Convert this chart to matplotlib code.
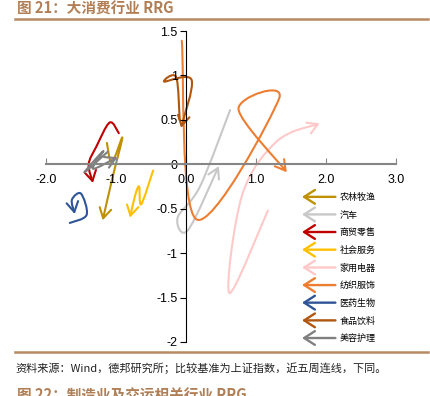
import matplotlib
matplotlib.use('Agg')
import matplotlib.pyplot as plt
from matplotlib.path import Path
from matplotlib.patches import FancyArrowPatch
from matplotlib.lines import Line2D
from matplotlib.legend_handler import HandlerBase
import numpy as np

plt.rcParams['font.family'] = ['Noto Sans CJK SC', 'DejaVu Sans']
plt.rcParams['axes.unicode_minus'] = False

# five weekly RRG points per sector (x: relative strength, y: momentum)
agri_x = [-1.13, -1.06, -0.91, -1.05, -1.19]
agri_y = [0.24, 0.02, 0.30, -0.15, -0.63]
auto_x = [0.63, 0.20, -0.12, 0.03, 0.47]
auto_y = [0.61, -0.25, -0.60, -0.74, -0.02]
retail_x = [-0.96, -1.09, -1.28, -1.39, -1.33]
retail_y = [0.35, 0.47, 0.20, 0.00, -0.21]
service_x = [-0.47, -0.64, -0.67, -0.73, -0.80]
service_y = [-0.07, -0.45, -0.25, -0.36, -0.60]
appliance_x = [1.17, 0.62, 0.80, 1.30, 1.91]
appliance_y = [-0.52, -1.45, -0.35, 0.26, 0.46]
textile_x = [-0.06, 0.15, 1.33, 0.75, 1.44]
textile_y = [1.39, -0.62, 0.74, 0.62, -0.09]
pharma_x = [-1.66, -1.42, -1.50, -1.63, -1.59]
pharma_y = [-0.66, -0.57, -0.33, -0.40, -0.56]
food_x = [-0.09, -0.14, -0.31, 0.08, -0.07]
food_y = [0.50, 0.98, 0.93, 0.95, 0.41]
beauty_x = [-1.12, -1.45, -1.18, -1.33, -0.98]
beauty_y = [0.14, -0.09, 0.15, -0.05, 0.08]

names = ['农林牧渔', '汽车', '商贸零售', '社会服务', '家用电器',
         '纺织服饰', '医药生物', '食品饮料', '美容护理']
colors = ['#BF9000', '#C8C8C8', '#C00000', '#FFC000', '#FFC9C9',
          '#ED7D31', '#2F5597', '#B0560F', '#808080']
series_x = [agri_x, auto_x, retail_x, service_x, appliance_x,
            textile_x, pharma_x, food_x, beauty_x]
series_y = [agri_y, auto_y, retail_y, service_y, appliance_y,
            textile_y, pharma_y, food_y, beauty_y]

x_ticks = [-2, -1, 0, 1, 2, 3]
x_tick_labels = ['-2.0', '-1.0', '0.0', '1.0', '2.0', '3.0']
y_ticks = [1.5, 1, 0.5, 0, -0.5, -1, -1.5, -2]
y_tick_labels = ['1.5', '1', '0.5', '0', '-0.5', '-1', '-1.5', '-2']


def smooth_path(xs, ys):
    # smoothed line through the points, like a spreadsheet "smoothed line"
    p = np.column_stack([xs, ys])
    n = len(p)
    verts = [p[0]]
    codes = [Path.MOVETO]
    for i in range(n - 1):
        prev = p[i - 1] if i > 0 else p[i]
        nxt = p[i + 2] if i + 2 < n else p[i + 1]
        c1 = p[i] + (p[i + 1] - prev) / 6
        c2 = p[i + 1] - (nxt - p[i]) / 6
        verts += [c1, c2, p[i + 1]]
        codes += [Path.CURVE4] * 3
    return Path(verts, codes)


class ArrowHandler(HandlerBase):
    def create_artists(self, legend, orig_handle, xdescent, ydescent,
                       width, height, fontsize, trans):
        y = (height - ydescent) / 2
        arrow = FancyArrowPatch((width - xdescent, y), (-xdescent, y),
                                arrowstyle='->,head_length=0.7,head_width=0.45',
                                mutation_scale=11, shrinkA=0, shrinkB=0,
                                color=orig_handle.get_color(), lw=1.7,
                                transform=trans)
        return [arrow]


fig = plt.figure(figsize=(4.31, 3.96), dpi=100)
ax = fig.add_axes([46 / 431, 1 - 342 / 396, 350 / 431, 311 / 396])
ax.set_xlim(-2, 3)
ax.set_ylim(-2, 1.5)

for xs, ys, c in zip(series_x, series_y, colors):
    arr = FancyArrowPatch(path=smooth_path(xs, ys),
                          arrowstyle='->,head_length=0.6,head_width=0.35',
                          mutation_scale=12, color=c, lw=1.5)
    ax.add_patch(arr)

for s in ['top', 'right']:
    ax.spines[s].set_visible(False)
ax.spines['left'].set_position('zero')
ax.spines['bottom'].set_position('zero')
ax.spines['bottom'].set_color('#868686')
ax.spines['bottom'].set_linewidth(1.5)
ax.spines['left'].set_color('black')
ax.spines['left'].set_linewidth(0.8)

ax.set_xticks(x_ticks)
ax.set_xticklabels(x_tick_labels, fontfamily='Liberation Sans')
ax.set_yticks(y_ticks)
ax.set_yticklabels(y_tick_labels, fontfamily='Liberation Sans')
ax.tick_params(axis='x', direction='in', length=4, pad=7, color='#868686', labelsize=9)
ax.tick_params(axis='y', direction='out', length=4, pad=2, labelsize=9)

handles = [Line2D([], [], color=c) for c in colors]
fig.legend(handles, names, handler_map={Line2D: ArrowHandler()},
           loc='upper left', bbox_to_anchor=(302 / 431, 1 - 193 / 396),
           frameon=False, fontsize=6.5, borderpad=0, borderaxespad=0,
           handlelength=3.7, handletextpad=0.45, labelspacing=0.95)

# report-style header and footer
brown = '#B27F55'
fig.text(17 / 431, 1 - 9 / 396, '图 21：大消费行业 RRG', va='center', ha='left',
         fontsize=10.5, fontweight='bold', color=brown)
fig.add_artist(Line2D([15 / 431, 428 / 431], [1 - 19 / 396] * 2, color='#B68A63', lw=1.8))
fig.add_artist(Line2D([15 / 431, 428 / 431], [1 - 352 / 396] * 2, color='#B68A63', lw=1.8))
fig.text(15 / 431, 1 - 368 / 396,
         '资料来源：Wind，德邦研究所；比较基准为上证指数，近五周连线，下同。',
         va='center', ha='left', fontsize=8, color='#222222')
fig.text(17 / 431, 1 - 387 / 396, '图 22：制造业及交运相关行业 RRG', va='top', ha='left',
         fontsize=10.5, fontweight='bold', color=brown)

fig.savefig('out.png', dpi=100)
